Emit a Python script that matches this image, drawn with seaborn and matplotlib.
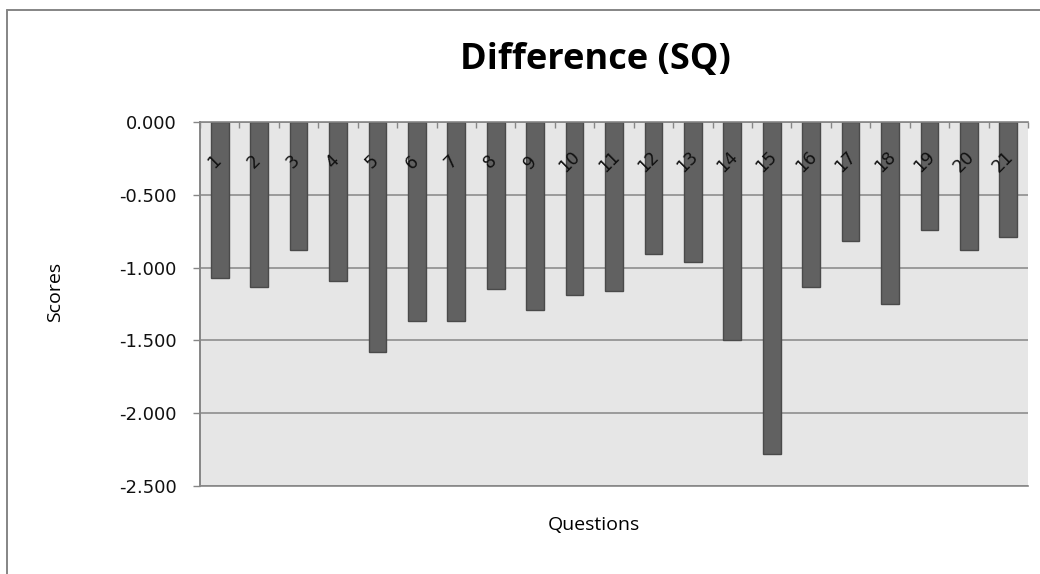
import numpy as np
import matplotlib
matplotlib.use("Agg")
import matplotlib.pyplot as plt
import matplotlib.transforms as mtransforms
from matplotlib.lines import Line2D
import seaborn as sns

# Per-question difference scores
questions = [str(i) for i in range(1, 22)]
scores = [-1.07, -1.13, -0.88, -1.09, -1.58, -1.37, -1.37, -1.145, -1.29, -1.19,
          -1.16, -0.91, -0.96, -1.50, -2.28, -1.13, -0.82, -1.25, -0.74, -0.88, -0.79]
y_ticks = [0.0, -0.5, -1.0, -1.5, -2.0, -2.5]

title = "Difference (SQ)"
x_label = "Questions"
y_label = "Scores"

sns.set_style("white")
plt.rcParams["font.family"] = ["DejaVu Sans"]

fig = plt.figure(figsize=(10.4, 5.74), dpi=100)
ax = fig.add_axes([200 / 1040, 1 - 486 / 574, 828 / 1040, 364 / 574])
ax.set_facecolor("#e6e6e6")

grid_c = "#868686"
ax.set_ylim(-2.5, 0)
ax.set_yticks(y_ticks)
ax.set_yticklabels([f"{v:.3f}" for v in y_ticks])
ax.yaxis.grid(True, color=grid_c, linewidth=1.1)
ax.set_axisbelow(True)

sns.barplot(x=questions, y=scores, color="#616161", saturation=1, width=0.45,
            edgecolor="#4a4a4a", linewidth=1.0, ax=ax)
ax.set_xlim(-0.5, len(questions) - 0.5)
ax.set_xlabel("")
ax.set_ylabel("")

# category boundary ticks along the zero line
ax.set_xticks([])
ax.set_xticks(np.arange(-0.5, len(questions), 1), minor=True)
ax.tick_params(axis="x", which="minor", top=True, bottom=False, direction="in",
               length=4.5, width=1, color=grid_c, labelbottom=False)
ax.tick_params(axis="y", which="major", left=True, direction="out", length=5,
               width=1, color=grid_c, pad=12, labelsize=13, labelcolor="#111111")

for side in ["left", "top", "bottom"]:
    ax.spines[side].set_color(grid_c)
    ax.spines[side].set_linewidth(1.2)
ax.spines["left"].set_linewidth(1.4)
ax.spines["right"].set_visible(False)

# rotated category labels sitting just under the zero line
trans = mtransforms.blended_transform_factory(ax.transData, ax.transAxes)
for i, q in enumerate(questions):
    ax.text(i - 0.13, 0.89, q, rotation=45, ha="center", va="center",
            fontsize=12.5, color="#111111", transform=trans)

fig.text(595 / 1040, 1 - 60 / 574, title, ha="center", va="center",
         fontsize=26, fontweight="bold", family="Open Sans", color="#000000")
fig.text(594 / 1040, 1 - 525 / 574, x_label, ha="center", va="center",
         fontsize=14, family="Open Sans", color="#000000")
fig.text(55 / 1040, 1 - 292 / 574, y_label, ha="center", va="center",
         rotation=90, fontsize=14, family="Open Sans", color="#000000")

# chart-area frame edges
fig.add_artist(Line2D([6.5 / 1040, 6.5 / 1040], [0, 1 - 10 / 574],
                      transform=fig.transFigure, color="#858585", linewidth=1.4))
fig.add_artist(Line2D([6.5 / 1040, 1], [1 - 10 / 574, 1 - 10 / 574],
                      transform=fig.transFigure, color="#858585", linewidth=1.4))

fig.savefig("out.png", dpi=100, facecolor="white")
